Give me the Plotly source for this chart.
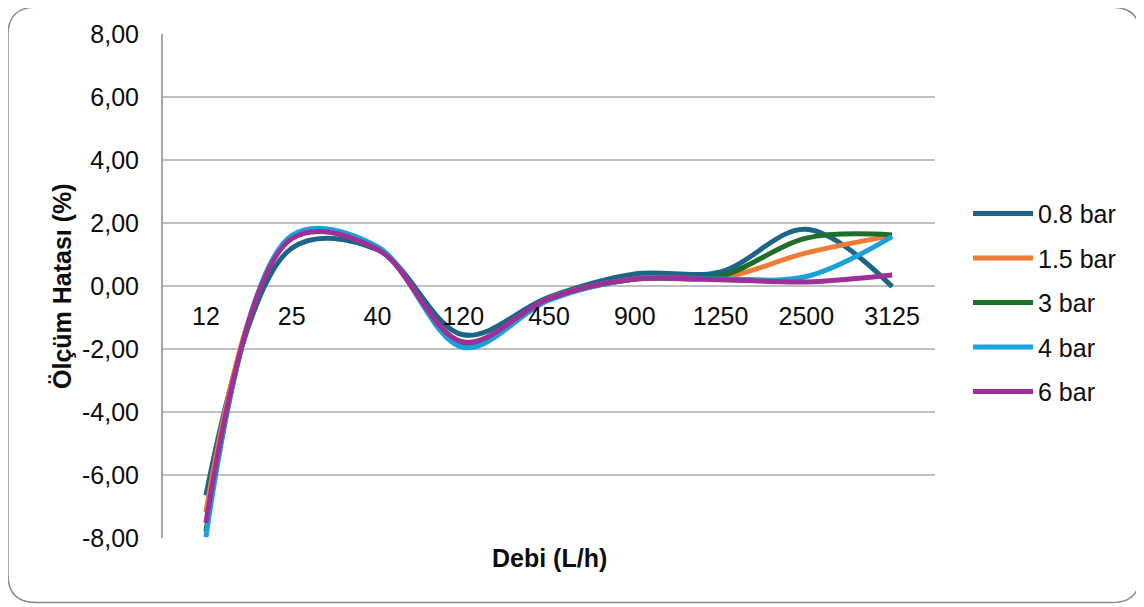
import plotly.graph_objects as go

categories = ["12", "25", "40", "120", "450", "900", "1250", "2500", "3125"]
series_names = ["0.8 bar", "1.5 bar", "3 bar", "4 bar", "6 bar"]
bar_08 = [-6.65, 1.20, 1.15, -1.55, -0.35, 0.38, 0.45, 1.80, -0.02]
bar_15 = [-7.18, 1.52, 1.20, -1.92, -0.40, 0.22, 0.25, 1.05, 1.60]
bar_3 = [-7.80, 1.55, 1.20, -1.88, -0.42, 0.22, 0.32, 1.52, 1.62]
bar_4 = [-7.97, 1.60, 1.25, -1.95, -0.45, 0.22, 0.22, 0.30, 1.57]
bar_6 = [-7.52, 1.50, 1.17, -1.78, -0.40, 0.22, 0.20, 0.13, 0.35]
series_values = [bar_08, bar_15, bar_3, bar_4, bar_6]
colors = ["#1D6587", "#EE7B36", "#1F6E2B", "#19A2DA", "#9E2F97"]
y_ticks = [-8, -6, -4, -2, 0, 2, 4, 6, 8]
y_tick_text = [f"{v:.2f}".replace(".", ",") for v in y_ticks]

# window pixel geometry (page body has an 8px margin)
OFF = 8
W, H = 1144 - OFF, 607 - OFF
L, R, T, B = 163, 935, 30, 538

fig = go.Figure()
for name, vals, col in zip(series_names, series_values, colors):
    fig.add_trace(go.Scatter(
        x=categories, y=vals, name=name, mode="lines",
        line=dict(color=col, width=5, shape="spline", smoothing=1.0),
        legendgroup=name,
    ))

def px(x):
    return (x - L) / (R - L)

def py(y):
    return (B - y) / (B - T)

# rounded outer border
x0, y0, x1, y1, r = 8, 3, 1140, 603, 28
path = (f"M {px(x0+r)},{py(y0)} L {px(x1-r)},{py(y0)} Q {px(x1)},{py(y0)} {px(x1)},{py(y0+r)} "
        f"L {px(x1)},{py(y1-r)} Q {px(x1)},{py(y1)} {px(x1-r)},{py(y1)} "
        f"L {px(x0+r)},{py(y1)} Q {px(x0)},{py(y1)} {px(x0)},{py(y1-r)} "
        f"L {px(x0)},{py(y0+r)} Q {px(x0)},{py(y0)} {px(x0+r)},{py(y0)} Z")

FS = 25

fig.update_layout(
    width=W, height=H,
    margin=dict(l=L - OFF, r=(W + OFF) - R, t=T - OFF, b=(H + OFF) - B),
    paper_bgcolor="white", plot_bgcolor="white",
    font=dict(family="Liberation Sans, Arial, sans-serif", size=FS, color="#0D0D0D"),
    shapes=[dict(type="path", xref="paper", yref="paper", path=path,
                 line=dict(color="#8C8C8C", width=1.5), layer="below")],
    xaxis=dict(
        type="category", showgrid=False, zeroline=False, showline=False,
        ticks="", anchor="free", position=py(284), ticklabelstandoff=13,
        tickfont=dict(size=FS), range=[-0.5, len(categories) - 0.5],
        fixedrange=True,
    ),
    yaxis=dict(
        range=[-8, 8], tickvals=y_ticks, ticktext=y_tick_text,
        showgrid=True, gridcolor="#BFBFBF", gridwidth=2,
        zeroline=True, zerolinecolor="#BFBFBF", zerolinewidth=2,
        showline=True, linecolor="#A6A6A6", linewidth=2,
        ticks="", ticklabelstandoff=17, tickfont=dict(size=FS),
    ),
    showlegend=True,
    legend=dict(x=px(968), y=py(188), xanchor="left", yanchor="top",
                font=dict(size=FS), itemwidth=60, tracegroupgap=9,
                bgcolor="rgba(0,0,0,0)"),
    annotations=[
        dict(text="<b>Debi (L/h)</b>", xref="paper", yref="paper",
             x=px(549), y=py(558), showarrow=False, font=dict(size=FS),
             xanchor="center", yanchor="middle"),
        dict(text="<b>Ölçüm Hatası (%)</b>", xref="paper", yref="paper",
             x=px(62), y=py(284), showarrow=False, font=dict(size=FS),
             textangle=-90, xanchor="center", yanchor="middle"),
    ],
)

fig.write_html("out.html")
